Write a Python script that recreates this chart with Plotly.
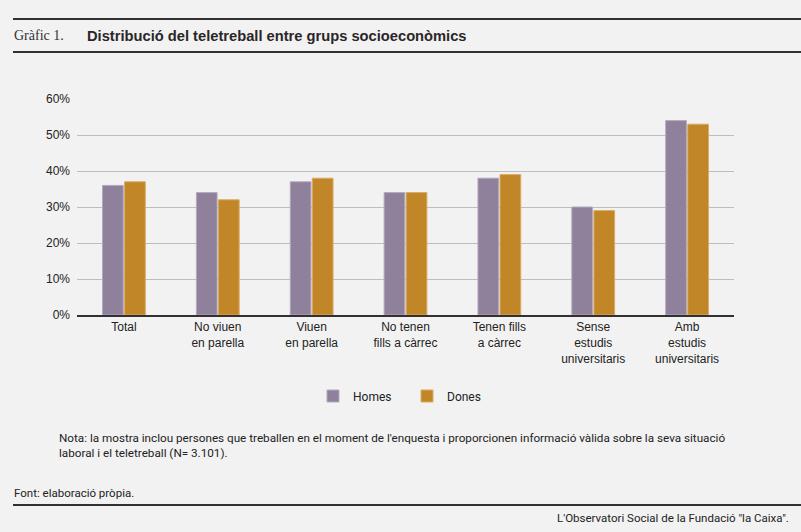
import plotly.graph_objects as go

categories = [
    "Total",
    "No viuen<br>en parella",
    "Viuen<br>en parella",
    "No tenen<br>fills a càrrec",
    "Tenen fills<br>a càrrec",
    "Sense<br>estudis<br>universitaris",
    "Amb<br>estudis<br>universitaris",
]
homes = [36, 34, 37, 34, 38, 30, 54]
dones = [37, 32, 38, 34, 39, 29, 53]
y_ticks = [0, 10, 20, 30, 40, 50, 60]
y_ticklabels = ["0%", "10%", "20%", "30%", "40%", "50%", "60%"]

bg = "#f2f2f2"
purple = "#8f819c"
gold = "#c08627"
dark = "#333031"

# plot area in pixels: x 77..734, y 99..315
L, R, T, B = 77, 734, 99, 315
W, H = 801, 532


def px(x):
    return (x - L) / (R - L)


def py(y):
    return (B - y) / (B - T)


fig = go.Figure()
fig.add_bar(x=categories, y=homes, name="Homes", marker=dict(color=purple, line=dict(color="#b3a9bd", width=1)))
fig.add_bar(x=categories, y=dones, name="Dones", marker=dict(color=gold, line=dict(color="#d9ab66", width=1)))

fig.update_layout(
    width=W,
    height=H,
    margin=dict(l=L, r=W - R, t=T, b=H - B),
    paper_bgcolor=bg,
    plot_bgcolor=bg,
    barmode="group",
    bargap=0.53,
    bargroupgap=0.06,
    font=dict(family="Liberation Sans, Arial", size=12, color="#222"),
    showlegend=True,
    legend=dict(
        orientation="h",
        x=px(313),
        xanchor="left",
        y=py(396),
        yanchor="middle",
        font=dict(family="Roboto", size=12, color="#222"),
        entrywidth=49,
        entrywidthmode="pixels",
        itemwidth=30,
        tracegroupgap=0,
    ),
    xaxis=dict(
        tickfont=dict(size=12),
        showline=True,
        linecolor=dark,
        linewidth=2,
        ticks="",
        tickangle=0,
    ),
    yaxis=dict(
        range=[0, 60],
        tickvals=y_ticks,
        ticktext=y_ticklabels,
        showgrid=True,
        gridcolor="#bdbdbd",
        gridwidth=1,
        zeroline=False,
        ticks="",
        ticklabelstandoff=6,
        tickfont=dict(size=12),
    ),
)

line = dict(color=dark, width=2)
fig.add_shape(type="line", xref="paper", yref="paper", x0=px(13), x1=px(801), y0=py(19), y1=py(19), line=line)
fig.add_shape(type="line", xref="paper", yref="paper", x0=px(13), x1=px(801), y0=py(52), y1=py(52), line=line)
fig.add_shape(type="line", xref="paper", yref="paper", x0=px(13), x1=px(801), y0=py(505), y1=py(505), line=line)

fig.add_annotation(
    text="Gràfic 1.", xref="paper", yref="paper", x=px(12), y=py(36),
    xanchor="left", yanchor="middle", showarrow=False,
    font=dict(family="Liberation Serif", size=14, color="#333"),
)
fig.add_annotation(
    text="<b>Distribució del teletreball entre grups socioeconòmics</b>", xref="paper", yref="paper",
    x=px(85), y=py(36), xanchor="left", yanchor="middle", showarrow=False,
    font=dict(family="Liberation Sans", size=14.7, color="#2a2627"),
)
fig.add_annotation(
    text="Nota: la mostra inclou persones que treballen en el moment de l'enquesta i proporcionen informació vàlida sobre la seva situació<br>laboral i el teletreball (N= 3.101).",
    xref="paper", yref="paper", x=px(57), y=py(445), xanchor="left", yanchor="middle", align="left",
    showarrow=False, font=dict(family="Roboto", size=11.7, color="#222"),
)
fig.add_annotation(
    text="Font: elaboració pròpia.", xref="paper", yref="paper", x=px(12), y=py(493),
    xanchor="left", yanchor="middle", showarrow=False,
    font=dict(family="Roboto", size=11.5, color="#222"),
)
fig.add_annotation(
    text="L'Observatori Social de la Fundació \"la Caixa\".", xref="paper", yref="paper", x=px(791), y=py(518),
    xanchor="right", yanchor="middle", showarrow=False,
    font=dict(family="Roboto", size=11.5, color="#222"),
)

fig.write_html(
    "out.html",
    config={"displayModeBar": False},
    post_script="document.body.style.margin='0';",
)
